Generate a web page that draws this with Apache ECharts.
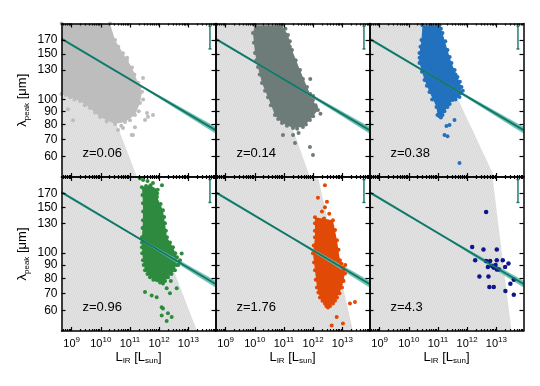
<!DOCTYPE html>
<html>
<head>
<meta charset="utf-8">
<script src="https://cdn.jsdelivr.net/npm/echarts@6/dist/echarts.min.js"></script>
<style>
  html, body { margin: 0; padding: 0; background: #fff; }
  #chart { width: 540px; height: 386px; }
</style>
</head>
<body>
<div id="chart"></div>
<script>
// luminosities are log10(L_IR / L_sun), wavelengths are in micron
const panelLabels = ['z=0.06', 'z=0.14', 'z=0.38', 'z=0.96', 'z=1.76', 'z=4.3'];
const pointColors = ['#bdbdbd', '#6d7b79', '#2171be', '#2d8a3e', '#e04a06', '#0e168a'];
const xTickLabels = [9, 10, 11, 12, 13];
const minorSteps = [2, 3, 4, 5, 6, 7, 8, 9];
const yTickLabels = [60, 70, 80, 90, 100, 130, 150, 170];
const xRange = [8.653, 13.93];
const yRange = [50, 197];

// best fit line + its band (same in every panel)
const fitL = [8.653, 11.3, 13.93];
const fitLam = [172, 114.2, 76];
const fitLow = [169.6, 113.3, 73.7];
const fitHigh = [174.4, 115.1, 78.3];
// error bar in the top right corner
const errL = 13.74;
const errLam = [157, 192.5];

// edge of the grey bundle of model tracks, at the top and the bottom of each panel
const bundleTop = [9.218, 10.006, 10.469, 11.274, 12.164, 12.867];
const bundleBottom = [11.24, 11.89, 12.935, 13.295, 13.363, 13.518];

// outlines of the dense clouds of sources
const cloud1 = [[8.653,197],[10.315,197],[10.486,170],[10.76,151],[11.068,133],[11.274,116],[11.41,107],[11.342,96.8],
  [11.17,86.9],[10.83,81.7],[10.486,80.2],[9.972,85.4],[9.63,92.6],[9.287,98.5],[8.944,102],[8.653,105]];
const cloud2 = [[10.006,194],[10.931,194],[11.137,177.6],[11.274,155.4],[11.548,130],[11.788,111.7],[11.993,99.4],[12.164,90.9],
  [11.89,83.2],[11.65,78.1],[11.31,77.4],[10.93,81],[10.69,87],[10.452,102],[10.246,115.7],[10.109,133.5],[10.006,151.2],[9.938,180.8]];
const cloud3 = [[10.469,194],[11.051,194],[11.154,180.8],[11.325,155.4],[11.462,138.3],[11.668,122.1],[11.805,111.7],[11.736,102.1],
  [11.497,99.4],[11.325,93.4],[11.154,87],[10.983,87],[10.948,93.4],[10.709,106.8],[10.537,118.9],[10.366,138.3],[10.366,151.2],[10.434,170]];
const cloud4 = [[11.41,180],[11.7,183],[11.95,176],[11.925,164.7],[12.13,146.6],[12.199,130.6],[12.267,115.2],[12.473,105.4],[12.61,96.4],
  [12.541,85.8],[12.301,80.6],[12.13,76.4],[11.925,78.5],[11.685,80.6],[11.514,85.8],[11.445,93.8],[11.41,105.4],[11.41,115.2],
  [11.445,134.1],[11.445,156.1]];
const cloud5 = [[12.062,137.7],[12.678,134.1],[12.815,112.1],[12.918,93.8],[13.02,88.1],[13.089,83.5],[12.986,73.7],[12.815,67.4],
  [12.678,63.9],[12.507,61.7],[12.404,63.9],[12.233,67.4],[12.13,73.7],[12.062,85.8],[11.993,99.9],[12.062,115.2],[12.062,130.6]];
const cloud6 = [];

// sources along the cloud edges and outside the dense part
const spots1 = [[11.582,88.5],[11.788,87],[11.102,72.7],[11.445,121],[10.897,142],[10.417,165],[10.212,190],[10.589,76.1],
  [9.047,83.1],[8.876,91.5],[11.058,72.7],[11.17,78],[10.76,77.4],[11.514,83.2],[11.616,85.7],
  [10.6,160],[10.9,145],[11.15,125],[11.35,112],[11.45,100],[11.3,90],[11.0,83],[10.7,79],[10.2,82],[9.8,89],[9.45,95],
  [9.1,100],[8.8,104]];
const spots2 = [[11.89,65.4],[11.993,60.8],[11.31,72.7],[10.965,72.7],[11.377,67.7],[12.1,93],[12.25,88],[11.9,120],[12.0,103],
  [11.5,74],[10.85,190],[11.2,160],
  [11.05,188],[11.2,168],[11.4,142],[11.65,120],[11.9,105],[12.08,95],[12.0,86],[11.75,80],[11.45,77],[11.1,79],[10.8,84],
  [10.55,95],[10.35,108],[10.17,125],[10.05,142],[9.97,166]];
const spots3 = [[11.565,83.2],[11.394,79.6],[11.29,78.8],[11.222,72.7],[11.325,71.9],[11.736,56.7],[11.6,125],[11.85,108],
  [11.1,85],[10.4,140],
  [10.75,194],[11.1,188],[11.25,168],[11.4,146],[11.57,130],[11.75,117],[11.78,106],[11.6,100],[11.4,96],[11.22,90],[11.05,86],
  [10.8,100],[10.62,113],[10.45,128],[10.37,145],[10.4,160]];
const spots4 = [[11.342,194.5],[11.45,192],[11.787,186.6],[12.096,183.2],[11.6,190],[11.743,68.6],[11.914,67.6],[12.257,73.1],
  [12.37,69.9],[12.6,73.1],[12.086,61.8],[12.13,61.1],[12.086,57.4],[12.301,58.5],[12.428,56.6],[12.257,54.6],[11.514,70.7],
  [12.713,93.8],[12.771,99.6],[12.4,78],[12.65,90],
  [11.55,182],[11.93,170],[12.05,155],[12.17,138],[12.23,122],[12.37,110],[12.55,100],[12.6,90],[12.42,83],[12.2,78],[12.03,77],
  [11.8,79],[11.6,83],[11.47,90],[11.42,100],[11.41,110],[11.43,125],[11.45,145],[11.43,168]];
const spots5 = [[12.404,183.2],[12.472,158.1],[12.164,163.9],[12.404,150.5],[12.3,145],[12.805,56.6],[12.634,52.5],[13.02,53.5],
  [13.26,63.9],[13.432,64.7],[13.02,78.5],[12.55,142],[13.1,90],
  [12.37,136],[12.75,123],[12.87,103],[12.97,91],[13.05,86],[13.04,78],[12.9,70],[12.75,65.5],[12.58,62.5],[12.45,62.5],
  [12.32,65.5],[12.18,70.5],[12.09,79],[12.03,92],[12.02,107],[12.06,122]];
const spots6 = [[12.65,144.4],[12.171,105.6],[12.558,103.2],[13.014,103.2],[12.274,93.8],[12.65,93.2],[12.787,93.2],[13.014,93.8],
  [13.22,93.8],[13.415,91.1],[12.71,88.4],[12.86,88.9],[12.915,87.9],[12.973,90],[13.014,86.4],[13.083,86.4],[13.3,88.4],
  [12.42,81.3],[12.73,81.3],[13.597,79],[12.76,73.9],[12.91,73.9],[13.48,76.2],[13.31,71.4],[13.597,69.1]];

const clouds = [cloud1, cloud2, cloud3, cloud4, cloud5, cloud6];
const spots = [spots1, spots2, spots3, spots4, spots5, spots6];

const FONT = '"Liberation Sans", Arial, Helvetica, sans-serif';
const TEAL_LINE = '#137567';
const TEAL_BAND = '#62bcab';
const colLeft = [61.5, 215.5, 369.5];
const rowTop = [23.5, 177];
const rowHeight = [153.5, 154];

const lg = Math.log10;
const toXY = p => [p[0], lg(p[1])];

const minorTicks = [];
for (let n = 8; n <= 13; n++) {
  minorSteps.forEach(k => {
    const v = n + lg(k);
    if (v > xRange[0] && v < xRange[1]) minorTicks.push(v);
  });
}
const yTickVals = yTickLabels.map(lg);

// fine steep grey strokes, like the bundle of tracks in the original
const hatch = document.createElement('canvas');
hatch.width = 4; hatch.height = 10;
(function () {
  const g = hatch.getContext('2d');
  g.fillStyle = '#e5e5e5';
  g.fillRect(0, 0, 4, 10);
  g.strokeStyle = '#d2d2d2';
  g.lineWidth = 0.7;
  [-4, -2, 0, 2, 4].forEach(dx => {
    g.beginPath();
    g.moveTo(dx - 4, -10); g.lineTo(dx + 8, 20);
    g.stroke();
  });
})();
const BUNDLE = { image: hatch, repeat: 'repeat' };

const chart = echarts.init(document.getElementById('chart'), null, { renderer: 'canvas' });

const grids = [], xAxes = [], yAxes = [], series = [], graphics = [];

function xAxisDef(i, pos, ticks, len, withLabels) {
  return {
    gridIndex: i, type: 'value', position: pos, min: xRange[0], max: xRange[1], z: 10,
    axisLine: { show: len === 4, onZero: false, lineStyle: { color: '#000', width: 1.5 } },
    axisTick: { show: true, inside: true, length: len, customValues: ticks, lineStyle: { color: '#000', width: 1.2 } },
    axisLabel: {
      show: withLabels, customValues: xTickLabels, margin: 5, color: '#000',
      formatter: v => '{b|10}{s|' + v + '}',
      rich: {
        b: { fontSize: 11, lineHeight: 16, fontFamily: FONT, color: '#000' },
        s: { fontSize: 8, lineHeight: 8, verticalAlign: 'top', fontFamily: FONT, color: '#000' }
      }
    },
    splitLine: { show: false },
    name: withLabels ? '{l|L}{sub|IR}{l| [L}{sub|sun}{l|]}' : '',
    nameLocation: 'middle', nameGap: 18,
    nameTextStyle: {
      rich: {
        l: { fontSize: 13, lineHeight: 16, fontFamily: FONT, color: '#000' },
        sub: { fontSize: 8, lineHeight: 8, verticalAlign: 'bottom', fontFamily: FONT, color: '#000' }
      }
    }
  };
}

function yAxisDef(i, pos, withLabels) {
  return {
    gridIndex: i, type: 'value', position: pos, min: lg(yRange[0]), max: lg(yRange[1]), z: 10,
    axisLine: { show: true, onZero: false, lineStyle: { color: '#000', width: 1.5 } },
    axisTick: { show: true, inside: true, length: 4, customValues: yTickVals, lineStyle: { color: '#000', width: 1.2 } },
    axisLabel: {
      show: withLabels, customValues: yTickVals, margin: 4, fontSize: 12, fontFamily: FONT, color: '#000',
      formatter: v => String(Math.round(Math.pow(10, v)))
    },
    splitLine: { show: false },
    name: withLabels ? '{l|λ}{sub|peak}{l| [μm]}' : '',
    nameLocation: 'middle', nameGap: 31,
    nameTextStyle: {
      rich: {
        l: { fontSize: 13, lineHeight: 16, fontFamily: FONT, color: '#000' },
        sub: { fontSize: 8, lineHeight: 8, verticalAlign: 'bottom', fontFamily: FONT, color: '#000' }
      }
    }
  };
}

function polygon(i, pts, fill, opacity) {
  return {
    type: 'custom', xAxisIndex: i * 4, yAxisIndex: i * 2, clip: true, silent: true,
    data: pts,
    renderItem: (params, api) => {
      if (params.dataIndex !== 0) return;
      return {
        type: 'polygon',
        shape: { points: pts.map(p => api.coord(p)) },
        style: { fill: fill, opacity: opacity }
      };
    }
  };
}

for (let i = 0; i < 6; i++) {
  const r = Math.floor(i / 3), c = i % 3;
  grids.push({ left: colLeft[c], top: rowTop[r], width: 154, height: rowHeight[r], outerBoundsMode: 'none' });

  xAxes.push(xAxisDef(i, 'bottom', xTickLabels, 4, r === 1));
  xAxes.push(xAxisDef(i, 'bottom', minorTicks, 2, false));
  xAxes.push(xAxisDef(i, 'top', xTickLabels, 4, false));
  xAxes.push(xAxisDef(i, 'top', minorTicks, 2, false));
  yAxes.push(yAxisDef(i, 'left', c === 0));
  yAxes.push(yAxisDef(i, 'right', false));

  // grey bundle of tracks
  const yLo = lg(yRange[0]), yHi = lg(yRange[1]);
  series.push(polygon(i, [[xRange[0], yHi], [bundleTop[i], yHi], [bundleBottom[i], yLo], [xRange[0], yLo]], BUNDLE, 1));

  // dense cloud + scattered sources
  if (clouds[i].length) series.push(polygon(i, clouds[i].map(toXY), pointColors[i], 1));
  series.push({
    type: 'scatter', xAxisIndex: i * 4, yAxisIndex: i * 2, silent: true,
    symbolSize: i === 5 ? 4.5 : 4,
    itemStyle: { color: pointColors[i], opacity: 1 },
    data: clouds[i].concat(spots[i]).map(toXY)
  });

  // fit band and line
  const band = fitL.map((x, k) => [x, lg(fitHigh[k])])
    .concat(fitL.map((x, k) => [x, lg(fitLow[k])]).reverse());
  series.push(polygon(i, band, TEAL_BAND, 0.9));
  series.push({
    type: 'line', xAxisIndex: i * 4, yAxisIndex: i * 2, silent: true, symbol: 'none',
    lineStyle: { color: TEAL_LINE, width: 1.8 },
    data: [[fitL[0], lg(fitLam[0])], [fitL[2], lg(fitLam[2])]]
  });

  // error bar
  series.push({
    type: 'custom', xAxisIndex: i * 4, yAxisIndex: i * 2, silent: true,
    data: [[errL, lg(errLam[0]), lg(errLam[1])]],
    renderItem: (params, api) => {
      const top = api.coord([api.value(0), api.value(2)]);
      const bot = api.coord([api.value(0), api.value(1)]);
      const st = { stroke: TEAL_LINE, lineWidth: 1.4 };
      return {
        type: 'group', children: [
          { type: 'line', shape: { x1: top[0], y1: top[1], x2: bot[0], y2: bot[1] }, style: st },
          { type: 'line', shape: { x1: top[0] - 1.5, y1: top[1], x2: top[0] + 1.5, y2: top[1] }, style: st },
          { type: 'line', shape: { x1: bot[0] - 1.5, y1: bot[1], x2: bot[0] + 1.5, y2: bot[1] }, style: st }
        ]
      };
    }
  });

  graphics.push({
    type: 'text', left: colLeft[c] + 21, top: rowTop[r] + 123.5, z: 100,
    style: { text: panelLabels[i], font: '13px ' + FONT, fill: '#000' }
  });
}

chart.setOption({
  animation: false,
  backgroundColor: '#fff',
  grid: grids,
  xAxis: xAxes,
  yAxis: yAxes,
  series: series,
  graphic: graphics
});
</script>
</body>
</html>
